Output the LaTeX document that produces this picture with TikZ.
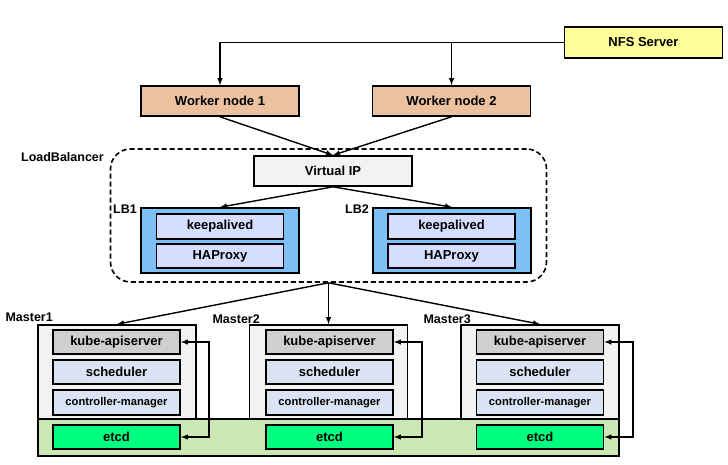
\documentclass[tikz,border=0pt]{standalone}
\usepackage{fontspec}
\setmainfont{Liberation Sans}
\usepackage{tikz}
\definecolor{nfsyellow}{RGB}{255,255,153}
\definecolor{workertan}{RGB}{235,193,160}
\definecolor{lightgrey}{RGB}{242,242,242}
\definecolor{lbblue}{RGB}{124,192,246}
\definecolor{lbpart}{RGB}{214,222,255}
\definecolor{apigrey}{RGB}{208,206,206}
\definecolor{partblue}{RGB}{218,227,243}
\definecolor{etcdgreen}{RGB}{0,255,127}
\definecolor{bandgreen}{RGB}{204,232,178}

\begin{document}
\begin{tikzpicture}[x=1pt, y=-1pt,
	box/.style={draw, line width=1.6pt, inner sep=0pt, font=\bfseries\fontsize{13}{15}\selectfont},
	wide/.style={box, minimum width=158pt, minimum height=30pt},
	part/.style={box, minimum width=127pt, minimum height=24pt},
	cmtext/.style={font=\bfseries\fontsize{11.2}{13}\selectfont},
	lbl/.style={anchor=east, inner sep=0pt, font=\bfseries\fontsize{12.5}{14}\selectfont},
	link/.style={-latex, line width=1.4pt},
	loop/.style={latex-latex, line width=1.4pt}]
	\useasboundingbox (0,0) rectangle (728,464);
	\node[wide, fill=nfsyellow, minimum height=31pt] (nfs) at (643.5,42.5) {NFS Server};
	\node[wide, fill=workertan] (w1) at (220,101) {Worker node 1};
	\node[wide, fill=workertan] (w2) at (451.5,101) {Worker node 2};
	\draw[link] (nfs.west) -| (w1.north);
	\draw[link] (w2.north |- nfs.west) -- (w2.north);
	\node[draw, dash pattern=on 5pt off 3pt, line width=1.6pt, rounded corners=20pt, minimum width=436pt, minimum height=133pt] (lbarea) at (328.5,215.5) {};
	\node[lbl] at (104,157) {LoadBalancer};
	\node[wide, fill=lightgrey] (vip) at (333,171) {Virtual IP};
	\draw[link] (w1.south) -- (vip.north);
	\draw[link] (w2.south) -- (vip.north);
	\node[wide, fill=lbblue, minimum height=65pt] (lb1) at (220,240.5) {};
	\node[part, fill=lbpart, minimum height=25pt] (kp1) at (220,226.5) {keepalived};
	\node[part, fill=lbpart] (ha1) at (220,256) {HAProxy};
	\node[lbl] at (137,209) {LB1};
	\node[wide, fill=lbblue, minimum height=65pt] (lb2) at (452,240.5) {};
	\node[part, fill=lbpart, minimum height=25pt] (kp2) at (451.5,226.5) {keepalived};
	\node[part, fill=lbpart] (ha2) at (451.5,256) {HAProxy};
	\node[lbl] at (369,209) {LB2};
	\draw[link] (vip.south) -- (lb1.north);
	\draw[link] (vip.south) -- (lb2.north);
	% masters and etcd band
	\node[wide, fill=lightgrey, minimum height=94pt] (m1) at (117,372) {};
	\node[wide, fill=lightgrey, minimum height=94pt] (m2) at (328.5,372) {};
	\node[wide, fill=lightgrey, minimum height=94pt] (m3) at (540,372) {};
	\node[box, fill=bandgreen, minimum width=581pt, minimum height=37pt] (band) at (328.5,437.5) {};
	\node[lbl] at (53,317) {Master1};
	\node[lbl] at (260,319) {Master2};
	\node[lbl] at (471,319) {Master3};
	\draw[link] (lbarea.south) -- (m1.north);
	\draw[link] (lbarea.south) -- (m2.north);
	\draw[link] (lbarea.south) -- (m3.north);
	\node[part, fill=apigrey] (api1) at (116.5,342) {kube-apiserver};
	\node[part, fill=partblue] (sch1) at (116.5,372) {scheduler};
	\node[part, fill=partblue, minimum height=25pt, cmtext] (cm1) at (116.5,402.5) {controller-manager};
	\node[part, fill=etcdgreen] (etcd1) at (116.5,437) {etcd};
	\node[part, fill=apigrey] (api2) at (329.5,342) {kube-apiserver};
	\node[part, fill=partblue] (sch2) at (329.5,372) {scheduler};
	\node[part, fill=partblue, minimum height=25pt, cmtext] (cm2) at (329.5,402.5) {controller-manager};
	\node[part, fill=etcdgreen] (etcd2) at (329.5,437) {etcd};
	\node[part, fill=apigrey] (api3) at (540,342) {kube-apiserver};
	\node[part, fill=partblue] (sch3) at (540,372) {scheduler};
	\node[part, fill=partblue, minimum height=25pt, cmtext] (cm3) at (540,402.5) {controller-manager};
	\node[part, fill=etcdgreen] (etcd3) at (540,437) {etcd};
	\draw[loop] (api1.east) -- ++(28,0) |- (etcd1.east);
	\draw[loop] (api2.east) -- ++(28,0) |- (etcd2.east);
	\draw[loop] (api3.east) -- ++(28.5,0) |- (etcd3.east);
\end{tikzpicture}
\end{document}
